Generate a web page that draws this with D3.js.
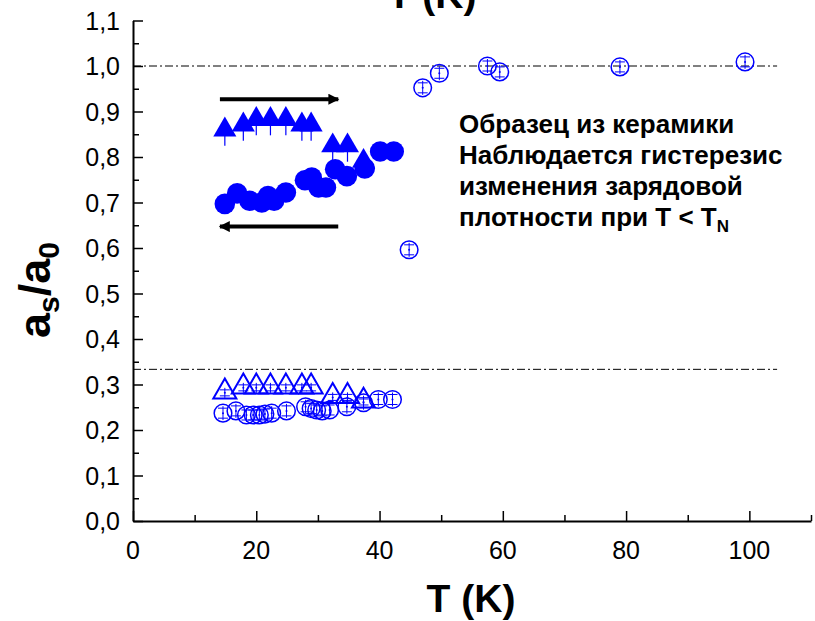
<!DOCTYPE html>
<html><head><meta charset="utf-8">
<script src="https://cdn.jsdelivr.net/npm/d3@7"></script>
<style>body{margin:0;background:#fff}svg{display:block}</style>
</head><body>
<svg id="c" width="815" height="621"></svg>
<script>
// ---- data ----
const xTicksMajor = [0,20,40,60,80,100];
const yTicksMajor = [0,0.1,0.2,0.3,0.4,0.5,0.6,0.7,0.8,0.9,1.0,1.1];
const yTickLabels = ["0,0","0,1","0,2","0,3","0,4","0,5","0,6","0,7","0,8","0,9","1,0","1,1"];
// filled triangles (upper branch, heating)
const triT  = [14.9,17.9,20.0,22.3,24.8,27.4,28.9,32.4,34.8,37.4];
const triV  = [0.862,0.873,0.885,0.885,0.885,0.873,0.873,0.827,0.827,0.793];
// open triangles (lower group)
const otriT = [14.9,17.9,20.0,22.3,24.8,27.4,28.9,32.4,34.8,37.4];
const otriV = [0.286,0.297,0.297,0.297,0.297,0.297,0.297,0.276,0.276,0.266];
// filled circles (cooling)
const cirT  = [14.9,16.9,18.9,20.9,21.9,22.9,24.8,27.9,29.0,30.1,31.3,32.8,34.7,37.6,40.1,42.3];
const cirV  = [0.697,0.720,0.704,0.700,0.714,0.704,0.722,0.749,0.755,0.733,0.733,0.773,0.758,0.775,0.812,0.812];
// open circles, lower group
const ocirT = [14.6,16.7,18.4,19.5,20.5,21.4,22.5,24.9,28.0,28.9,29.8,30.7,31.9,34.7,37.4,39.8,42.1];
const ocirV = [0.237,0.242,0.233,0.233,0.233,0.235,0.237,0.242,0.251,0.247,0.244,0.242,0.244,0.251,0.260,0.267,0.267];
// open circles, high temperature
const hcirT = [44.8,47.0,49.7,57.5,59.5,79.0,99.3];
const hcirV = [0.596,0.952,0.984,1.000,0.987,0.998,1.009];
// reference levels
const refLevels = [1.0, 1/3];
const annotLines = ["Образец из керамики","Наблюдается гистерезис","изменения зарядовой","плотности при T < T"];

// ---- layout ----
const svg = d3.select("#c");
const x = d3.scaleLinear().domain([0,110]).range([133,811]);
const y = d3.scaleLinear().domain([0,1.1]).range([521,20.5]);
const blue = "#0000ff";
const font = "'Liberation Sans', Arial, sans-serif";

// reference dash-dot lines
svg.selectAll("line.ref").data(refLevels).enter().append("line")
  .attr("x1", x(0)).attr("x2", x(104.5))
  .attr("y1", d=>y(d)).attr("y2", d=>y(d))
  .attr("stroke","#000").attr("stroke-width",1)
  .attr("stroke-dasharray","8,3,2,3");

// axes
const xAxis = d3.axisBottom(x).tickValues(d3.range(0,111,10)).tickSizeInner(0).tickSizeOuter(0).tickFormat("");
const gx = svg.append("g").attr("transform",`translate(0,${y(0)})`).call(xAxis);
gx.select(".domain").attr("stroke","#000").attr("stroke-width",2);
gx.selectAll(".tick line").attr("y2", d => (d%20===0 ? -10 : -6)).attr("stroke-width",1.5);
svg.append("g").selectAll("text").data(xTicksMajor).enter().append("text")
  .attr("x", d=>x(d)).attr("y", 559).attr("text-anchor","middle")
  .attr("font-family",font).attr("font-size",25).text(d=>d);

const yAxis = d3.axisLeft(y).tickValues(d3.range(0,23).map(i=>i*0.05)).tickSizeInner(0).tickSizeOuter(0).tickFormat("");
const gy = svg.append("g").attr("transform",`translate(${x(0)},0)`).call(yAxis);
gy.select(".domain").attr("stroke","#000").attr("stroke-width",2);
gy.selectAll(".tick line").attr("x2", (d,i) => (i%2===0 ? 10 : 6)).attr("stroke-width",1.5);
svg.append("g").selectAll("text").data(yTicksMajor).enter().append("text")
  .attr("x", 120).attr("y", d=>y(d)+9).attr("text-anchor","end")
  .attr("font-family",font).attr("font-size",25).text((d,i)=>yTickLabels[i]);

// axis titles
svg.append("text").attr("x",471).attr("y",612).attr("text-anchor","middle")
  .attr("font-family",font).attr("font-weight","bold").attr("font-size",39).text("T (K)");
svg.append("text").attr("x",432).attr("y",8).attr("text-anchor","middle")
  .attr("font-family",font).attr("font-weight","bold").attr("font-size",39).text("T (K)");
const yl = svg.append("text").attr("transform","translate(50,290) rotate(-90)").attr("text-anchor","middle")
  .attr("font-family",font).attr("font-weight","bold").attr("font-size",45);
yl.append("tspan").text("a");
yl.append("tspan").attr("font-size",30).attr("dy",9).text("s");
yl.append("tspan").attr("dy",-9).text("/a");
yl.append("tspan").attr("font-size",30).attr("dy",9).text("0");

// error-bar glyph inside open symbols
function innerBar(g, cx, cy, half){
  g.append("line").attr("x1",cx).attr("x2",cx).attr("y1",cy-half).attr("y2",cy+half).attr("stroke",blue).attr("stroke-width",1);
  g.append("line").attr("x1",cx-5).attr("x2",cx+5).attr("y1",cy-half+2).attr("y2",cy-half+2).attr("stroke",blue).attr("stroke-width",1);
  g.append("line").attr("x1",cx-5).attr("x2",cx+5).attr("y1",cy+half-2).attr("y2",cy+half-2).attr("stroke",blue).attr("stroke-width",1);
  g.append("circle").attr("cx",cx).attr("cy",cy).attr("r",1).attr("fill",blue);
}
const triSym = d3.symbol().type(d3.symbolTriangle).size(230);

// open circles (lower)
const gOc = svg.append("g");
ocirT.forEach((t,i)=>{
  gOc.append("circle").attr("cx",x(t)).attr("cy",y(ocirV[i])).attr("r",8.8)
    .attr("fill","none").attr("stroke",blue).attr("stroke-width",1.5);
  innerBar(gOc, x(t), y(ocirV[i]), 7);
});
// open triangles
const gOt = svg.append("g");
otriT.forEach((t,i)=>{
  gOt.append("path").attr("d",triSym()).attr("transform",`translate(${x(t)},${y(otriV[i])+1})`)
    .attr("fill","none").attr("stroke",blue).attr("stroke-width",2);
  innerBar(gOt, x(t), y(otriV[i])+2, 5);
});
// high-T open circles
const gHc = svg.append("g");
hcirT.forEach((t,i)=>{
  gHc.append("circle").attr("cx",x(t)).attr("cy",y(hcirV[i])).attr("r",8.8)
    .attr("fill","none").attr("stroke",blue).attr("stroke-width",1.5);
  innerBar(gHc, x(t), y(hcirV[i]), 7);
});
// filled triangles
const gT = svg.append("g");
triT.forEach((t,i)=>{
  gT.append("line").attr("x1",x(t)).attr("x2",x(t)).attr("y1",y(triV[i])).attr("y2",y(triV[i])+17)
    .attr("stroke",blue).attr("stroke-width",1.2);
  gT.append("path").attr("d",triSym()).attr("transform",`translate(${x(t)},${y(triV[i])+1})`).attr("fill",blue);
});
// filled circles
svg.append("g").selectAll("circle").data(cirT).enter().append("circle")
  .attr("cx",d=>x(d)).attr("cy",(d,i)=>y(cirV[i])).attr("r",10.3).attr("fill",blue);

// arrows
const defs = svg.append("defs");
defs.append("marker").attr("id","ah").attr("viewBox","0 0 10 10").attr("refX",9).attr("refY",5)
  .attr("markerUnits","userSpaceOnUse").attr("markerWidth",16).attr("markerHeight",11).attr("orient","auto")
  .append("path").attr("d","M0,0 L10,5 L0,10 Z").attr("fill","#000");
svg.append("line").attr("x1",x(14.1)).attr("x2",x(33.3)).attr("y1",y(0.927)).attr("y2",y(0.927))
  .attr("stroke","#000").attr("stroke-width",4).attr("marker-end","url(#ah)");
svg.append("line").attr("x1",x(33.3)).attr("x2",x(14.1)).attr("y1",y(0.647)).attr("y2",y(0.647))
  .attr("stroke","#000").attr("stroke-width",4).attr("marker-end","url(#ah)");

// annotation
const ga = svg.append("g");
annotLines.forEach((s,i)=>{
  const t = ga.append("text").attr("x",459).attr("y",133+i*31)
    .attr("font-family",font).attr("font-weight","bold").attr("font-size",26).text(s);
  if(i===3) t.append("tspan").attr("font-size",17).attr("dy",6).text("N");
});
</script>
</body></html>
